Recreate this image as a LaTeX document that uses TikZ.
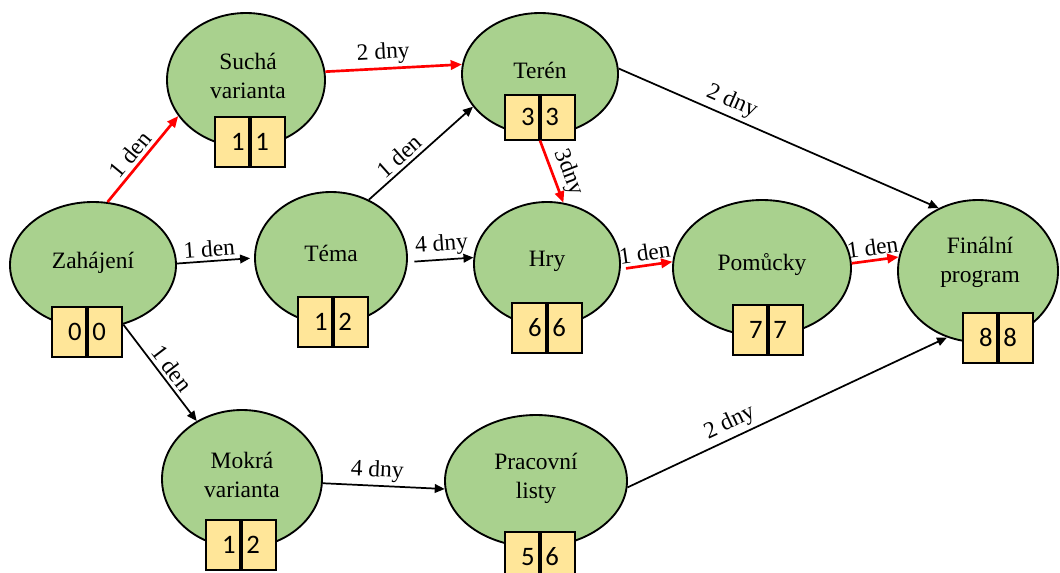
\documentclass[tikz,border=0pt]{standalone}
\usepackage{fontspec}
\setmainfont{Liberation Serif}
\newfontfamily\serifmain{Liberation Serif}
\newfontfamily\digitfont{Carlito}
\usetikzlibrary{shapes.geometric,arrows.meta}
\definecolor{ellgreen}{HTML}{A9D18E}
\definecolor{boxyellow}{HTML}{FFE699}
\definecolor{critred}{HTML}{FF0000}
\tikzset{
  ev/.style={ellipse, draw=black, fill=ellgreen, line width=1.4pt, inner sep=0pt},
  evtext/.style={font=\serifmain\fontsize{17.6}{21.75}\selectfont, align=center, inner sep=0pt},
  halfbox/.style={draw=black, fill=boxyellow, line width=1.4pt, minimum height=37.5pt,
    text width=19pt, inner xsep=3.25pt, inner ysep=0pt,
    font=\digitfont\fontsize{20}{20}\selectfont},
  halfL/.style={halfbox, align=right, anchor=north east},
  halfR/.style={halfbox, align=left, anchor=north west},
  conn/.style={line width=1.3pt, draw=black, -{Triangle[length=7.5pt,width=6.5pt]}},
  crit/.style={line width=2pt, draw=critred, -{Triangle[length=8.5pt,width=7pt]}},
  elabel/.style={font=\serifmain\fontsize{17.6}{20}\selectfont, sloped, above, inner sep=2.5pt, text=black},
}
\begin{document}
\begin{tikzpicture}[x=0.75pt,y=-0.75pt]
\useasboundingbox (0,0) rectangle (1060,572);

% ellipses
\node[ev, minimum width=118.5pt, minimum height=100.5pt] (such) at (246,80) {};
\node[ev, minimum width=124.5pt, minimum height=94.5pt] (zah) at (93,265) {};
\node[ev, minimum width=114pt, minimum height=99pt] (tema) at (331,258) {};
\node[ev, minimum width=117pt, minimum height=91.5pt] (teren) at (540,74) {};
\node[ev, minimum width=109.5pt, minimum height=93pt] (hry) at (547,264) {};
\node[ev, minimum width=133.5pt, minimum height=102pt] (pom) at (762,268) {};
\node[ev, minimum width=120pt, minimum height=106.5pt] (fin) at (978,271) {};
\node[ev, minimum width=120pt, minimum height=103.5pt] (mok) at (242,479) {};
\node[ev, minimum width=136.5pt, minimum height=99pt] (pra) at (536,481) {};

% ellipse texts
\node[evtext] (such-t) at (248,76) {Suchá\\varianta};
\node[evtext] (zah-t) at (93,263) {Zahájení};
\node[evtext] (tema-t) at (331,253) {Téma};
\node[evtext] (teren-t) at (540,70) {Terén};
\node[evtext] (hry-t) at (547,261) {Hry};
\node[evtext] (pom-t) at (762,265) {Pomůcky};
\node[evtext] (fin-t) at (980,262) {Finální\\program};
\node[evtext] (mok-t) at (242,475) {Mokrá\\varianta};
\node[evtext] (pra-t) at (536,478) {Pracovní\\listy};

% boxes
\node[halfL] (suchL) at (250,116) {1};
\node[halfR] (suchR) at (250,116) {1};
\node[halfL] (zahL) at (87,306) {0};
\node[halfR] (zahR) at (87,306) {0};
\node[halfL] (temaL) at (333,296) {1};
\node[halfR] (temaR) at (333,296) {2};
\node[halfL, minimum height=33.5pt] (terenL) at (540,94) {3};
\node[halfR, minimum height=33.5pt] (terenR) at (540,94) {3};
\node[halfL] (hryL) at (547,302) {6};
\node[halfR] (hryR) at (547,302) {6};
\node[halfL] (pomL) at (768,304) {7};
\node[halfR] (pomR) at (768,304) {7};
\node[halfL] (finL) at (998,312) {8};
\node[halfR] (finR) at (998,312) {8};
\node[halfL] (mokL) at (241,519) {1};
\node[halfR] (mokR) at (241,519) {2};
\node[halfL] (praL) at (540,531) {5};
\node[halfR] (praR) at (540,531) {6};

% connectors
\draw[crit] (zah.77) -- node[elabel, pos=0.46]{1 den} (such.208);
\draw[crit] (such.6) -- node[elabel, pos=0.43]{2 dny} (teren.173);
\draw[conn] (tema.57) -- node[elabel, pos=0.37]{1 den} (teren.206);
\draw[conn, shorten >=3pt] (zah.1) -- node[elabel, pos=0.43]{1 den} (tema.180);
\draw[conn, shorten <=5pt] (tema.-3) -- node[elabel, pos=0.53]{4 dny} (hry.175);
\draw[crit] (terenL.south east) -- node[elabel, pos=0.6]{3dny} (hry.75);
\draw[conn] (teren.4) -- node[elabel, pos=0.335]{2 dny} (fin.122);
\draw[crit, shorten <=4pt] (hry.-4) -- node[elabel, pos=0.5]{1 den} (pom.176);
\draw[crit] (pom.3) -- node[elabel, pos=0.48]{1 den} (fin.170);
\draw[conn] (zah.-63) -- node[elabel, pos=0.53]{1 den} (mok.128);
\draw[conn] (mok.-3) -- node[elabel, pos=0.44]{4 dny} (pra.185);
\draw[conn] (pra.-4) -- node[elabel, pos=0.34]{2 dny} (fin.245);
\end{tikzpicture}
\end{document}
